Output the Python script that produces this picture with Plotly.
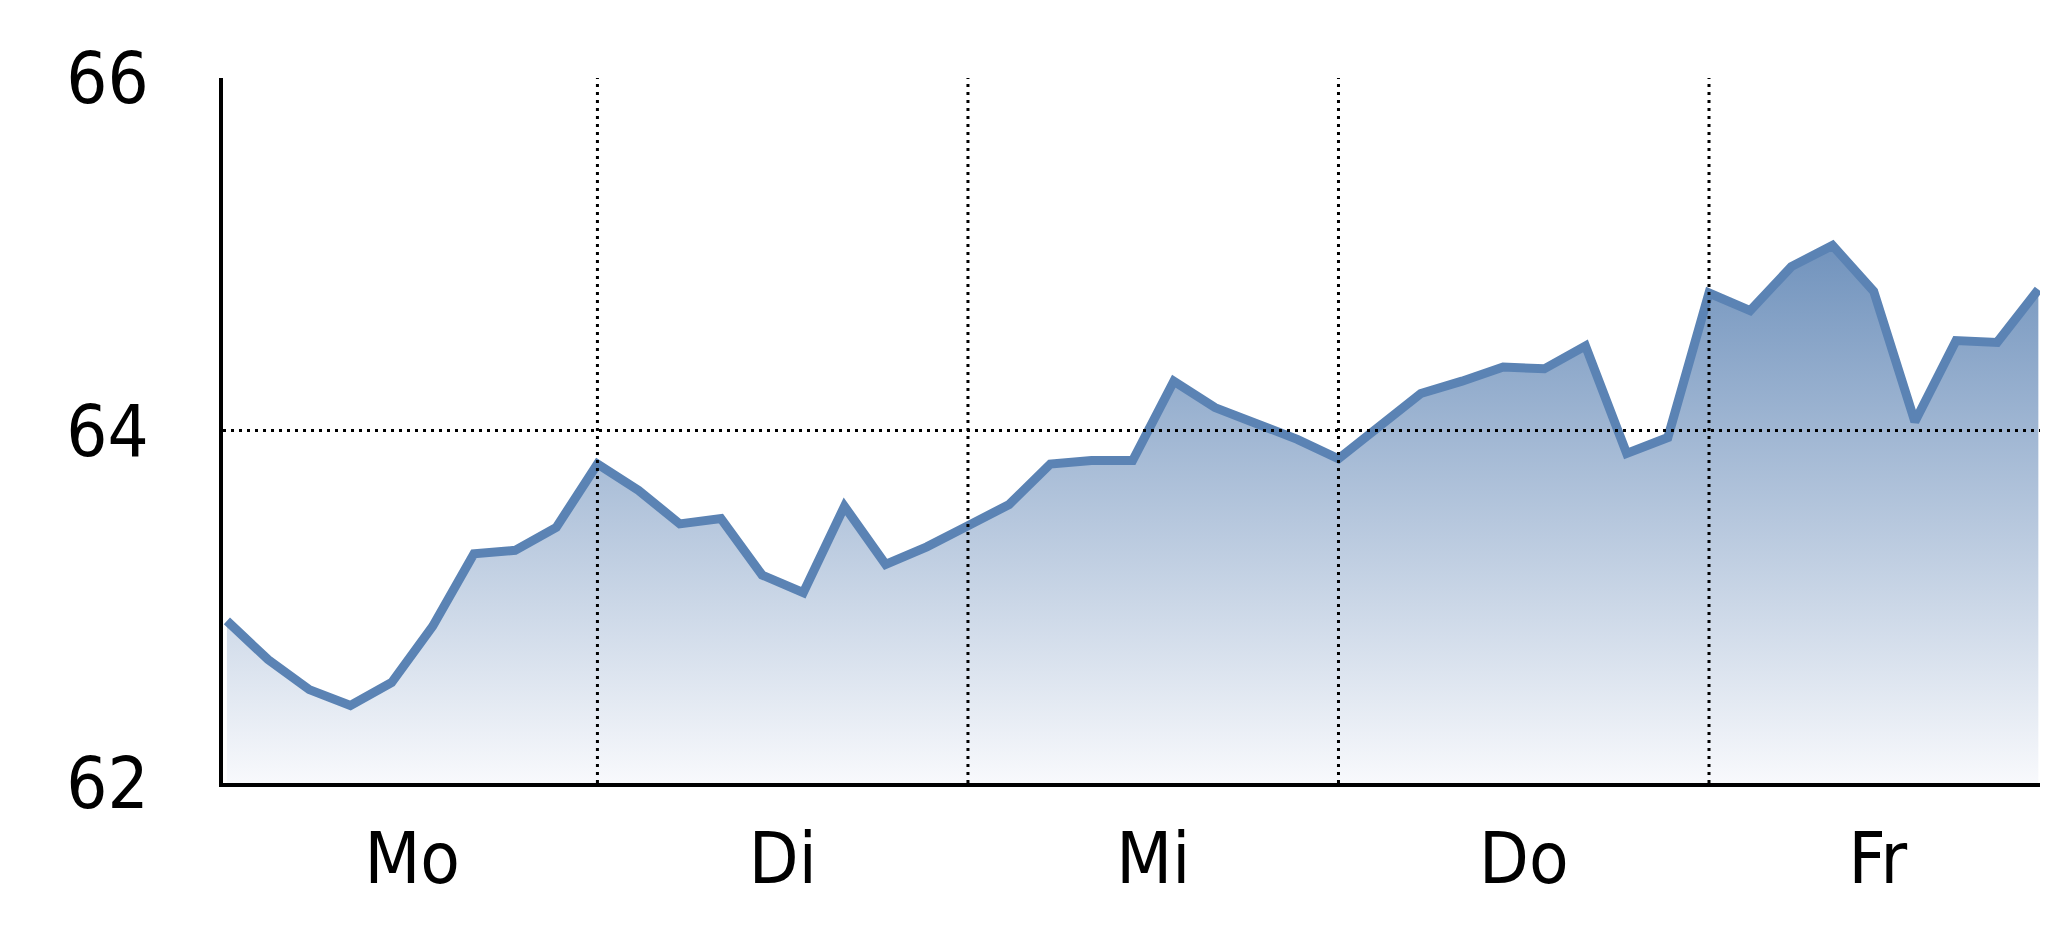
import plotly.graph_objects as go

# ---- data ----
days = ["Mo", "Di", "Mi", "Do", "Fr"]
day_label_pos = [4.5, 13.5, 22.5, 31.5, 40.1]
day_boundaries = [9, 18, 27, 36]
values = [
    62.92, 62.70, 62.53, 62.44, 62.57, 62.89, 63.30, 63.32, 63.45,
    63.81, 63.66, 63.47, 63.50, 63.18, 63.08, 63.57, 63.24, 63.34,
    63.46, 63.58, 63.81, 63.83, 63.83, 64.28, 64.13, 64.04, 63.95,
    63.84, 64.03, 64.21, 64.28, 64.36, 64.35, 64.48, 63.87, 63.96,
    64.78, 64.68, 64.93, 65.05, 64.79, 64.05, 64.51, 64.50, 64.80,
]
steps = list(range(len(values)))
y_ticks = [62, 64, 66]
y_grid = [64]

FONT = "Liberation Sans Narrow, Arial Narrow, DejaVu Sans Condensed, Liberation Sans, sans-serif"
DOT = "3px,5px"

fig = go.Figure()
fig.add_trace(go.Scatter(
    x=steps, y=values, mode="lines",
    line=dict(color="#5b83b4", width=9),
    fill="tozeroy",
    fillgradient=dict(type="vertical",
                      colorscale=[[0, "#f8f9fc"], [1, "#7193bd"]],
                      start=62, stop=max(values)),
    hoverinfo="skip", showlegend=False,
))

# dotted grid lines drawn above the filled area
for b in day_boundaries:
    fig.add_vline(x=b, line=dict(color="black", width=3, dash=DOT), layer="above")
for g in y_grid:
    fig.add_hline(y=g, line=dict(color="black", width=3, dash=DOT), layer="above")

fig.update_layout(
    width=2032, height=921,
    margin=dict(l=215, r=0, t=70, b=146),
    paper_bgcolor="white", plot_bgcolor="white",
    font=dict(family=FONT, color="black"),
    xaxis=dict(
        range=[-0.095, 44.04],
        showline=True, linecolor="black", linewidth=4,
        tickmode="array", tickvals=day_label_pos, ticktext=days,
        ticks="outside", ticklen=10, tickcolor="rgba(0,0,0,0)",
        tickfont=dict(size=72, family=FONT, color="black"),
        showgrid=False, zeroline=False, layer="above traces",
    ),
    yaxis=dict(
        range=[62, 66],
        showline=True, linecolor="black", linewidth=4,
        tickmode="array", tickvals=y_ticks,
        ticks="outside", ticklen=56, tickcolor="rgba(0,0,0,0)",
        tickfont=dict(size=72, family=FONT, color="black"),
        showgrid=False, zeroline=False, layer="above traces",
    ),
)

fig.write_html("out.html")
